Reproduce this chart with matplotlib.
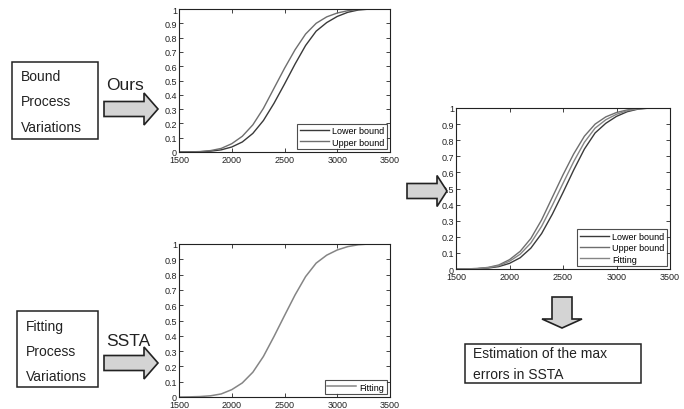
import matplotlib
matplotlib.use("Agg")
import matplotlib.pyplot as plt
from matplotlib.patches import Polygon, Rectangle

plt.rcParams['font.family'] = ['Liberation Sans', 'DejaVu Sans']

# ---------------- data ----------------
delay = [1500, 1600, 1700, 1800, 1900, 2000, 2100, 2200, 2300, 2400, 2500,
         2600, 2700, 2800, 2900, 3000, 3100, 3200, 3300, 3400, 3500]
lower_bound = [0.0, 0.0005, 0.002, 0.006, 0.015, 0.035, 0.070, 0.130, 0.220, 0.340, 0.475,
               0.615, 0.745, 0.845, 0.905, 0.948, 0.977, 0.993, 0.999, 1.0, 1.0]
upper_bound = [0.0, 0.001, 0.003, 0.010, 0.025, 0.058, 0.110, 0.190, 0.305, 0.445, 0.585,
               0.715, 0.825, 0.900, 0.945, 0.972, 0.988, 0.997, 1.0, 1.0, 1.0]
fitting = [0.0, 0.001, 0.003, 0.008, 0.020, 0.048, 0.092, 0.162, 0.265, 0.395, 0.532,
           0.667, 0.787, 0.875, 0.927, 0.961, 0.983, 0.995, 1.0, 1.0, 1.0]

xticks = [1500, 2000, 2500, 3000, 3500]
yticks = [0, 0.1, 0.2, 0.3, 0.4, 0.5, 0.6, 0.7, 0.8, 0.9, 1]
ytick_labels = ['0', '0.1', '0.2', '0.3', '0.4', '0.5', '0.6', '0.7', '0.8', '0.9', '1']

c_lower = '#3a3a3a'
c_upper = '#6e6e6e'
c_fit = '#858585'

W, H = 684, 410
fig = plt.figure(figsize=(W / 100, H / 100), dpi=100)


def box(x0, y0, x1, y1):
    # pixel box (top-left origin) -> figure fraction rect
    return [x0 / W, 1 - y1 / H, (x1 - x0) / W, (y1 - y0) / H]


def pt(x, y):
    return (x / W, 1 - y / H)


def style_axes(ax):
    ax.set_xlim(1500, 3500)
    ax.set_ylim(0, 1)
    ax.set_xticks(xticks)
    ax.set_yticks(yticks)
    ax.set_yticklabels(ytick_labels)
    ax.tick_params(direction='in', length=3, width=0.6, labelsize=6.5, pad=1.5,
                   top=True, right=True, colors='#222222')
    ax.tick_params(axis='x', pad=2.5)
    for s in ax.spines.values():
        s.set_linewidth(0.8)
        s.set_color('#222222')


def legend(ax):
    leg = ax.legend(loc='lower right', fontsize=6.5, handlelength=3.2, handletextpad=0.4,
                    borderpad=0.3, labelspacing=0.25, borderaxespad=0.3,
                    fancybox=False, frameon=True)
    leg.get_frame().set_edgecolor('#222222')
    leg.get_frame().set_linewidth(0.8)


# top plot: our bounds
ax1 = fig.add_axes(box(179, 10, 390, 153))
ax1.plot(delay, lower_bound, color=c_lower, lw=1.0, label='Lower bound')
ax1.plot(delay, upper_bound, color=c_upper, lw=1.0, label='Upper bound')
style_axes(ax1)
legend(ax1)

# bottom plot: SSTA fitting
ax2 = fig.add_axes(box(179, 245, 390, 398))
ax2.plot(delay, fitting, color=c_fit, lw=1.1, label='Fitting')
style_axes(ax2)
legend(ax2)

# right plot: all three
ax3 = fig.add_axes(box(456, 109, 670, 270))
ax3.plot(delay, lower_bound, color=c_lower, lw=1.0, label='Lower bound')
ax3.plot(delay, upper_bound, color=c_upper, lw=1.0, label='Upper bound')
ax3.plot(delay, fitting, color=c_fit, lw=1.0, label='Fitting')
style_axes(ax3)
legend(ax3)

# ---------------- diagram boxes and text ----------------
def rect(x0, y0, x1, y1):
    r = Rectangle(pt(x0, y1), (x1 - x0) / W, (y1 - y0) / H, transform=fig.transFigure,
                  fill=False, edgecolor='#222222', lw=1.1)
    fig.add_artist(r)


def right_arrow(x0, x1, xh, yc, shaft, head):
    verts = [pt(x0, yc - shaft / 2), pt(xh, yc - shaft / 2), pt(xh, yc - head / 2),
             pt(x1, yc), pt(xh, yc + head / 2), pt(xh, yc + shaft / 2), pt(x0, yc + shaft / 2)]
    fig.add_artist(Polygon(verts, closed=True, transform=fig.transFigure,
                           facecolor='#d4d4d4', edgecolor='#222222', lw=1.2))


def down_arrow(xc, y0, y1, yh, shaft, head):
    verts = [pt(xc - shaft / 2, y0), pt(xc + shaft / 2, y0), pt(xc + shaft / 2, yh),
             pt(xc + head / 2, yh), pt(xc, y1), pt(xc - head / 2, yh), pt(xc - shaft / 2, yh)]
    fig.add_artist(Polygon(verts, closed=True, transform=fig.transFigure,
                           facecolor='#d4d4d4', edgecolor='#222222', lw=1.2))


rect(12, 63, 98, 140)
for txt, y in [('Bound', 77), ('Process', 102), ('Variations', 128)]:
    fig.text(*pt(21, y), txt, fontsize=10, va='center', ha='left', color='#222222')
fig.text(*pt(106, 85), 'Ours', fontsize=12.5, va='center', ha='left', color='#222222')
right_arrow(104, 158, 144, 110, 15, 32)

rect(17, 312, 98, 388)
for txt, y in [('Fitting', 327), ('Process', 352), ('Variations', 377)]:
    fig.text(*pt(26, y), txt, fontsize=10, va='center', ha='left', color='#222222')
fig.text(*pt(106, 342), 'SSTA', fontsize=12.5, va='center', ha='left', color='#222222')
right_arrow(104, 158, 144, 364, 15, 32)

right_arrow(407, 447, 437, 192, 15, 31)
down_arrow(562, 298, 329, 320, 20, 40)

rect(465, 345, 641, 384)
fig.text(*pt(473, 354), 'Estimation of the max', fontsize=10, va='center', ha='left', color='#222222')
fig.text(*pt(473, 375), 'errors in SSTA', fontsize=10, va='center', ha='left', color='#222222')

fig.savefig('out.png', dpi=100)
